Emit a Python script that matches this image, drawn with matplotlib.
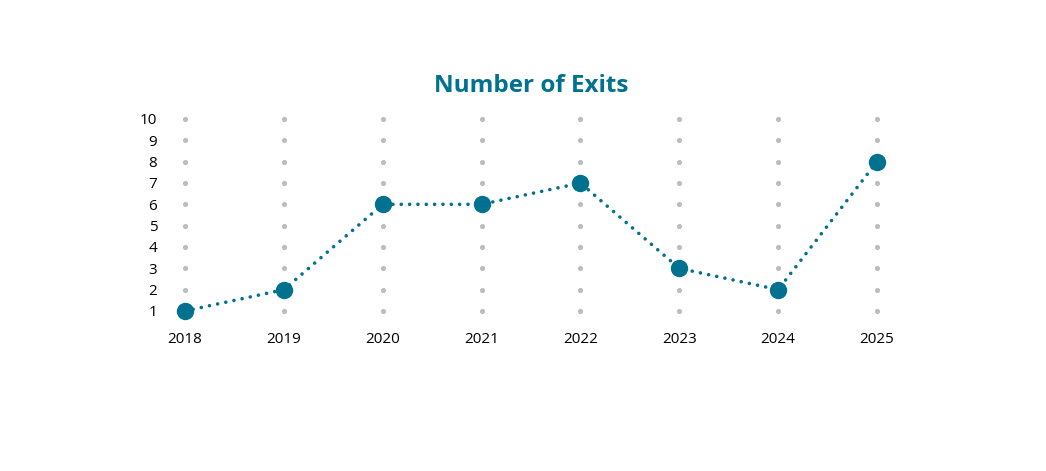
import numpy as np
import matplotlib.pyplot as plt

# data
years = [2018, 2019, 2020, 2021, 2022, 2023, 2024, 2025]
exits = [1, 2, 6, 6, 7, 3, 2, 8]
y_ticks = list(range(1, 11))

teal = '#00728f'
grey = '#bdbdbd'
plt.rcParams['font.family'] = ['Open Sans', 'DejaVu Sans']

W, H = 1046, 471
fig = plt.figure(figsize=(W / 100, H / 100), dpi=100)
ax = fig.add_axes([185 / W, (H - 311) / H, 692 / W, 192 / H])
ax.set_xlim(years[0], years[-1])
ax.set_ylim(y_ticks[0], y_ticks[-1])

# grey dot grid
gx, gy = np.meshgrid(years, y_ticks)
ax.scatter(gx.ravel(), gy.ravel(), s=14, color=grey, zorder=1, clip_on=False, linewidths=0)

# line
ax.plot(years, exits, color=teal, lw=2.6, linestyle=(0, (0.01, 2.3)),
        dash_capstyle='round', zorder=2, clip_on=False)
ax.plot(years, exits, 'o', color=teal, markersize=11.5, zorder=3, clip_on=False)

for s in ax.spines.values():
    s.set_visible(False)
ax.set_xticks(years)
ax.set_xticklabels([str(y) for y in years], fontsize=11, color='black')
ax.set_yticks(y_ticks)
ax.set_yticklabels([str(v) for v in y_ticks], fontsize=11, color='black')
ax.tick_params(axis='x', length=0, pad=15)
ax.tick_params(axis='y', length=0, pad=20)

fig.text(531 / W, 1 - 86 / H, 'Number of Exits', ha='center', va='center',
         fontsize=17.5, fontweight='bold', color=teal)

fig.savefig('out.png', dpi=100, facecolor='white')
